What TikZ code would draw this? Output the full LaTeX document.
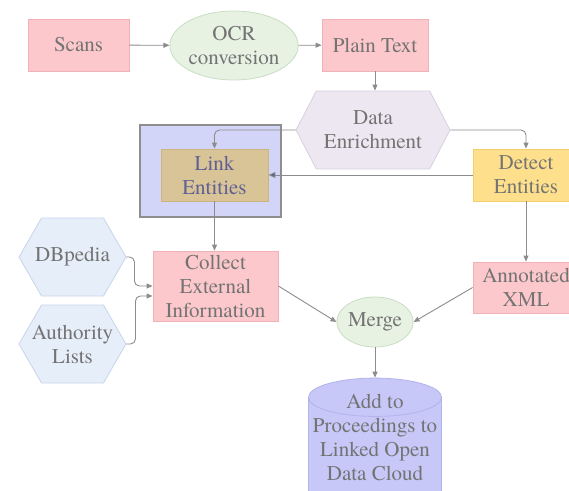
\documentclass[tikz,border=0pt]{standalone}
\usepackage{fontspec}
\setmainfont{texgyretermes-regular.otf}[BoldFont=texgyretermes-bold.otf]
\usepackage{tikz}
\usetikzlibrary{positioning, arrows.meta, shapes.geometric, shapes.symbols}
\usepackage{xcolor}
\definecolor{pinkfill}{HTML}{FCC8CC}
\definecolor{pinkline}{HTML}{EFB2B8}
\definecolor{greenfill}{HTML}{E7F2E3}
\definecolor{greenline}{HTML}{C9DDC3}
\definecolor{lavfill}{HTML}{EDE7F1}
\definecolor{lavline}{HTML}{D8CFE1}
\definecolor{hexfill}{HTML}{E6EEF9}
\definecolor{hexline}{HTML}{C7D5EA}
\definecolor{tanfill}{HTML}{D9C497}
\definecolor{tanline}{HTML}{CBB482}
\definecolor{yelfill}{HTML}{FEE08C}
\definecolor{yelline}{HTML}{F3CE6C}
\definecolor{boxfill}{HTML}{D3D5F8}
\definecolor{boxline}{HTML}{8E8E8E}
\definecolor{cylfill}{HTML}{C7C7F8}
\definecolor{cylline}{HTML}{B3B3EC}
\definecolor{txtgray}{HTML}{737373}
\definecolor{linkgray}{HTML}{8C8C8C}
\definecolor{linkpurple}{HTML}{606093}
\tikzset{
  stagebox/.style={rectangle, align=center, inner sep=0pt, line width=0.8pt},
  hexbox/.style={signal, signal to=east and west, signal pointer angle=120,
    align=center, inner xsep=-24pt, inner ysep=0pt, line width=0.8pt, fill=hexfill, draw=hexline},
  flow/.style={draw=linkgray, line width=0.9pt, -{Triangle[length=6pt,width=5pt]}, rounded corners=5pt}
}

\begin{document}
\begin{tikzpicture}[x=1pt, y=-1pt, text=txtgray, font=\rmfamily\fontsize{21}{24}\selectfont]
  \useasboundingbox (0,0) rectangle (569,490);
  % first row
  \node[stagebox, fill=pinkfill, draw=pinkline, minimum width=101pt, minimum height=52pt] (scans) at (78.5,45) {Scans};
  \node[ellipse, align=center, inner sep=0pt, fill=greenfill, draw=greenline, line width=0.8pt,
        minimum width=124pt, minimum height=69pt] (ocr) at (234,45.5) {OCR\\conversion};
  \node[stagebox, fill=pinkfill, draw=pinkline, minimum width=106pt, minimum height=52pt] (plain) at (375,45) {Plain Text};
  \node[hexbox, signal pointer angle=125, fill=lavfill, draw=lavline,
        minimum width=154pt, minimum height=78pt] (enrich) at (373,130) {Data\\Enrichment};
  % linking part
  \node[rectangle, fill=boxfill, draw=boxline, line width=2pt, minimum width=141pt, minimum height=92pt] (linkarea) at (210.5,171) {};
  \node[stagebox, fill=tanfill, draw=tanline, text=linkpurple, minimum width=107pt, minimum height=52pt] (link) at (214.5,175) {Link\\Entities};
  \node[stagebox, fill=yelfill, draw=yelline, minimum width=106pt, minimum height=52pt] (detect) at (526,175) {Detect\\Entities};
  \node[hexbox, minimum width=107pt, minimum height=78pt] (dbpedia) at (72.5,257) {DBpedia};
  \node[hexbox, minimum width=107pt, minimum height=78pt] (authority) at (72.5,344) {Authority\\Lists};
  \node[stagebox, fill=pinkfill, draw=pinkline, minimum width=125pt, minimum height=70pt] (collect) at (215.5,286) {Collect\\External\\Information};
  \node[stagebox, fill=pinkfill, draw=pinkline, minimum width=106pt, minimum height=51pt] (annotated) at (526,287.5) {Annotated\\XML};
  \node[ellipse, inner sep=0pt, fill=greenfill, draw=greenline, line width=0.8pt,
        minimum width=72pt, minimum height=50pt] (merge) at (375,322) {Merge};
  % the rule only stretches the body below the page edge
  \node[cylinder, shape border rotate=90, aspect=0.29, align=center, inner xsep=4pt, inner ysep=-23pt,
        cylinder uses custom fill, cylinder body fill=cylfill, cylinder end fill=cylfill,
        draw=cylline, line width=0.8pt, minimum width=133pt] (cloud) at (375,462)
        {Add to\\Proceedings to\\Linked Open\\Data Cloud\rule[-50pt]{0pt}{0pt}};

  \draw[flow] (scans) -- (ocr);
  \draw[flow] (ocr) -- (plain);
  \draw[flow] (plain.south) -- (plain.south |- enrich.north);
  \draw[flow] (enrich.west) -| (link.north);
  \draw[flow] (enrich.east) -| (detect.north);
  \draw[flow, -{Triangle[length=7pt,width=6pt,fill=linkpurple]}] (detect.west) -- (link.east);
  \draw[flow] (link.south) -- (collect.north -| link.south);
  \draw[flow] (dbpedia.east) -- ++(8,0) |- (collect.west);
  \draw[flow] (authority.east) -- ++(9,0) |- ([yshift=-10pt]collect.west);
  \draw[flow] (detect.south) -- (annotated.north);
  \draw[flow] (collect.east) -- (merge.west);
  \draw[flow] (annotated.west) -- (merge.east);
  \draw[flow] (merge.south) -- (cloud.north);
\end{tikzpicture}
\end{document}
